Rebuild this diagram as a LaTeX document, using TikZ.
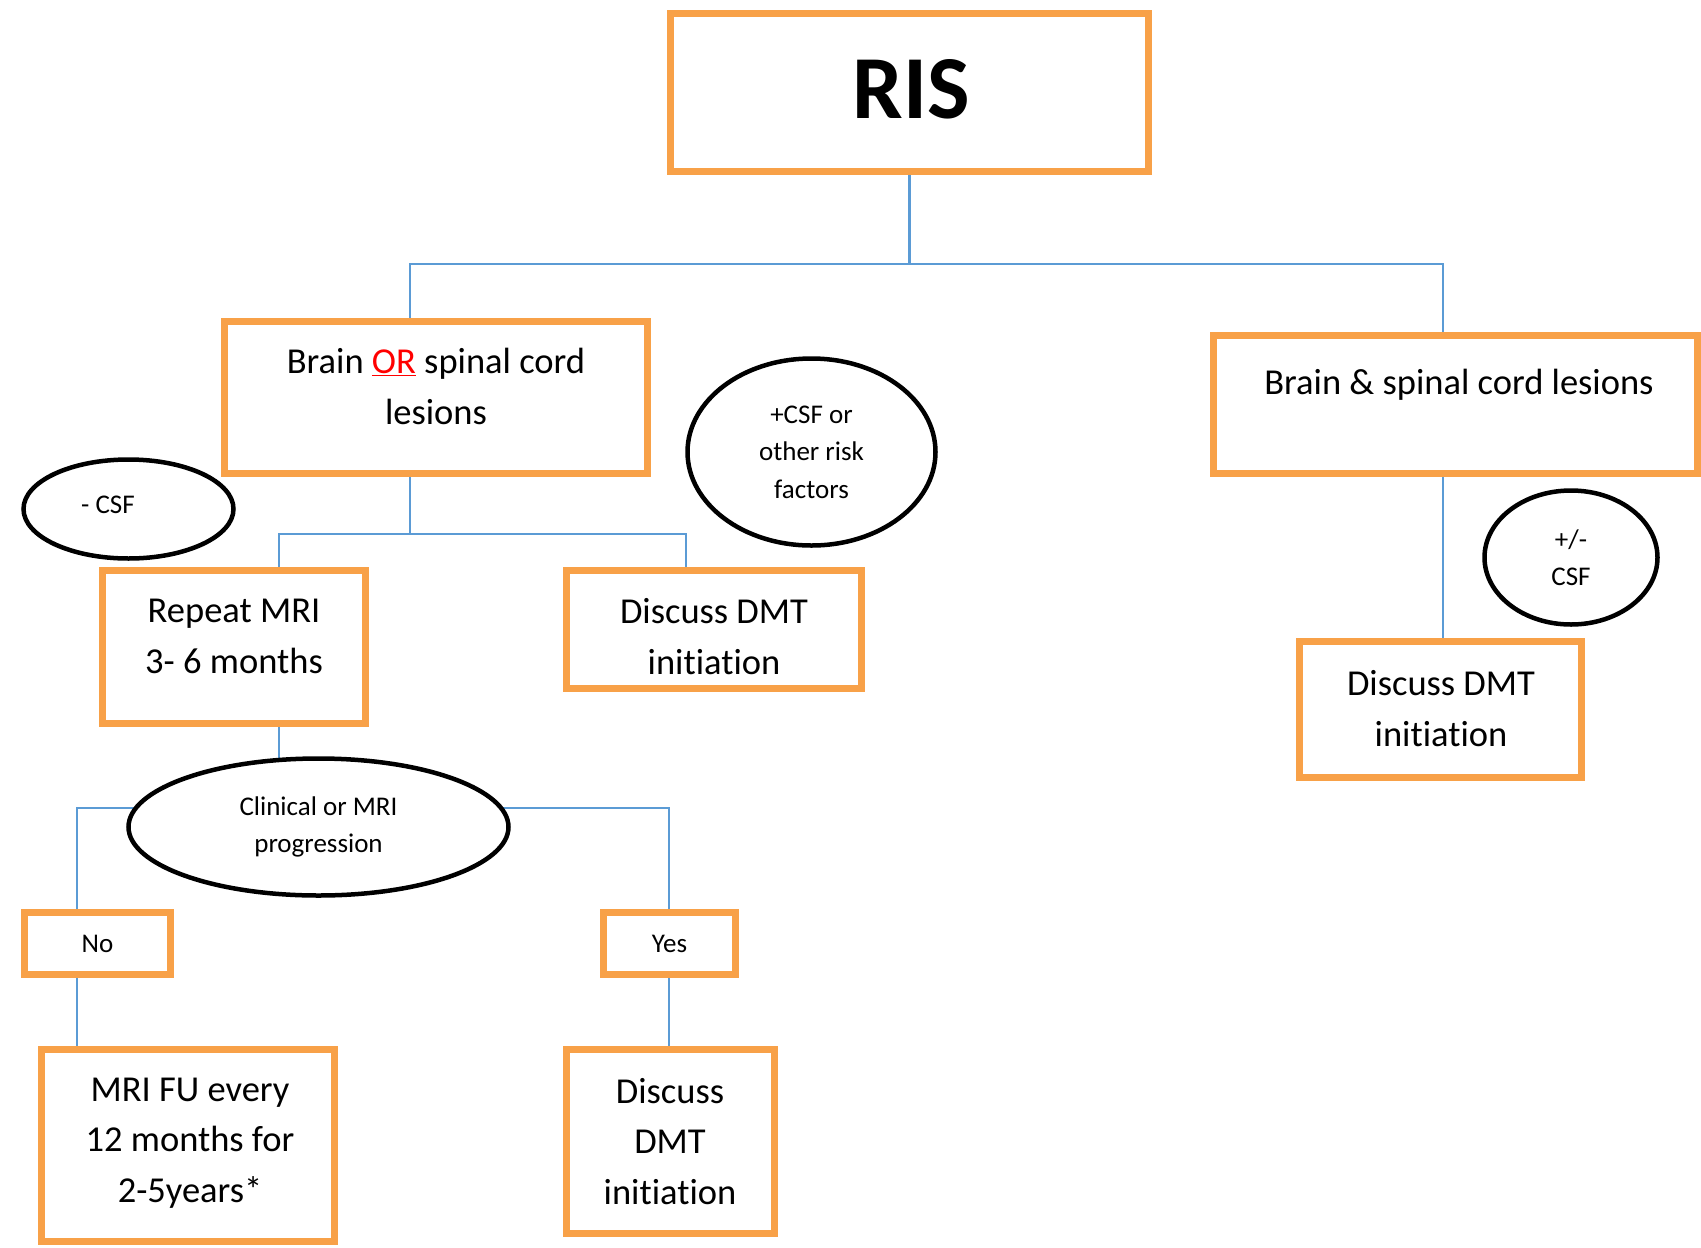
\documentclass[tikz,border=0pt]{standalone}
\usepackage{fontspec}
\setmainfont{Carlito}[Ligatures=NoCommon]
\usetikzlibrary{shapes.geometric,backgrounds}
\definecolor{boxor}{HTML}{F8A148}
\definecolor{lnblue}{HTML}{5B9BD5}
\begin{document}
\begin{tikzpicture}[x=1pt,y=-1pt,
  box/.style={draw=boxor, line width=7pt, fill=white, inner sep=0pt},
  oval/.style={draw=black, line width=4.5pt, ellipse, fill=white, inner sep=0pt},
  conn/.style={draw=lnblue, line width=2.5pt},
  big/.style={font=\fontsize{36.5}{50.5}\selectfont, align=center, inner sep=0pt},
  small/.style={font=\fontsize{27}{37.5}\selectfont, align=center, inner sep=0pt},
  title/.style={font=\fontsize{90}{100}\selectfont\bfseries, inner sep=0pt}]
\useasboundingbox (0,0) rectangle (1701,1248);
% boxes
\node[box, minimum width=478pt, minimum height=158pt] (ris) at (909.5,92.5) {};
\node[box, minimum width=423pt, minimum height=152pt] (bor) at (436,397.5) {};
\node[box, minimum width=484pt, minimum height=138pt] (bas) at (1455.5,404.5) {};
\node[box, minimum width=263pt, minimum height=153pt] (rmri) at (234,647) {};
\node[box, minimum width=295pt, minimum height=118pt] (dmt1) at (714,629.5) {};
\node[box, minimum width=282pt, minimum height=136pt] (dmt2) at (1440.5,709.5) {};
\node[box, small, minimum width=146pt, minimum height=62pt] (no) at (97.5,943.5) {No};
\node[box, small, minimum width=132pt, minimum height=62pt] (yes) at (669.5,943.5) {Yes};
\node[box, minimum width=293pt, minimum height=192pt] (mfu) at (188,1145.5) {};
\node[box, minimum width=208pt, minimum height=184pt] (dmt3) at (670.5,1141.5) {};
% ellipses
\node[oval, minimum width=210pt, minimum height=99pt] (csfm) at (128.5,509) {};
\node[oval, small, minimum width=248pt, minimum height=187pt] (csfp) at (811.5,452) {+CSF or\\other risk\\factors};
\node[oval, small, minimum width=173pt, minimum height=134pt] (pm) at (1571,557.5) {+/-\\CSF};
\node[oval, small, minimum width=380pt, minimum height=137pt] (clin) at (318.5,827) {Clinical or MRI\\progression};
% texts
\node[title] (risT) at (911,89) {RIS};
\node[big] (borT) at (436,386.5) {Brain {\color{red}\underline{OR}} spinal cord\\lesions};
\node[big] (basT) at (1459,385) {Brain \& spinal cord lesions};
\node[big] (rmriT) at (234,636.5) {Repeat MRI\\3- 6 months};
\node[big] (dmt1T) at (714,636.5) {Discuss DMT\\initiation};
\node[big] (dmt2T) at (1441,708.5) {Discuss DMT\\initiation};
\node[big] (mfuT) at (190,1143) {MRI FU every\\12 months for\\2-5years*};
\node[big] (dmt3T) at (670,1141.5) {Discuss\\DMT\\initiation};
\node[small] (csfmT) at (108,505) {- CSF};
% connectors
\coordinate (xA) at (410,0);
\coordinate (xB) at (1443,0);
\coordinate (xC) at (279,0);
\coordinate (xD) at (686,0);
\coordinate (xE) at (77,0);
\coordinate (xF) at (669,0);
\coordinate (h1) at (911,264);
\coordinate (h2) at (410,534);
\coordinate (h3) at (318,808);
\begin{scope}[on background layer]
\fill[white] (0,0) rectangle (1701,1248);
\draw[conn] (ris.south) -- (ris.south |- h1);
\draw[conn] (bor.north -| xA) |- (h1) -| (bas.north -| xB);
\draw[conn] (bor.south -| xA) -- (h2);
\draw[conn] (rmri.north -| xC) |- (h2) -| (dmt1.north -| xD);
\draw[conn] (bas.south -| xB) -- (dmt2.north -| xB);
\draw[conn] (rmri.south -| xC) -- (clin.center -| xC);
\draw[conn] (no.north -| xE) |- (h3) -| (yes.north -| xF);
\draw[conn] (no.south -| xE) -- (mfu.north -| xE);
\draw[conn] (yes.south -| xF) -- (dmt3.north -| xF);
\end{scope}
\end{tikzpicture}
\end{document}
